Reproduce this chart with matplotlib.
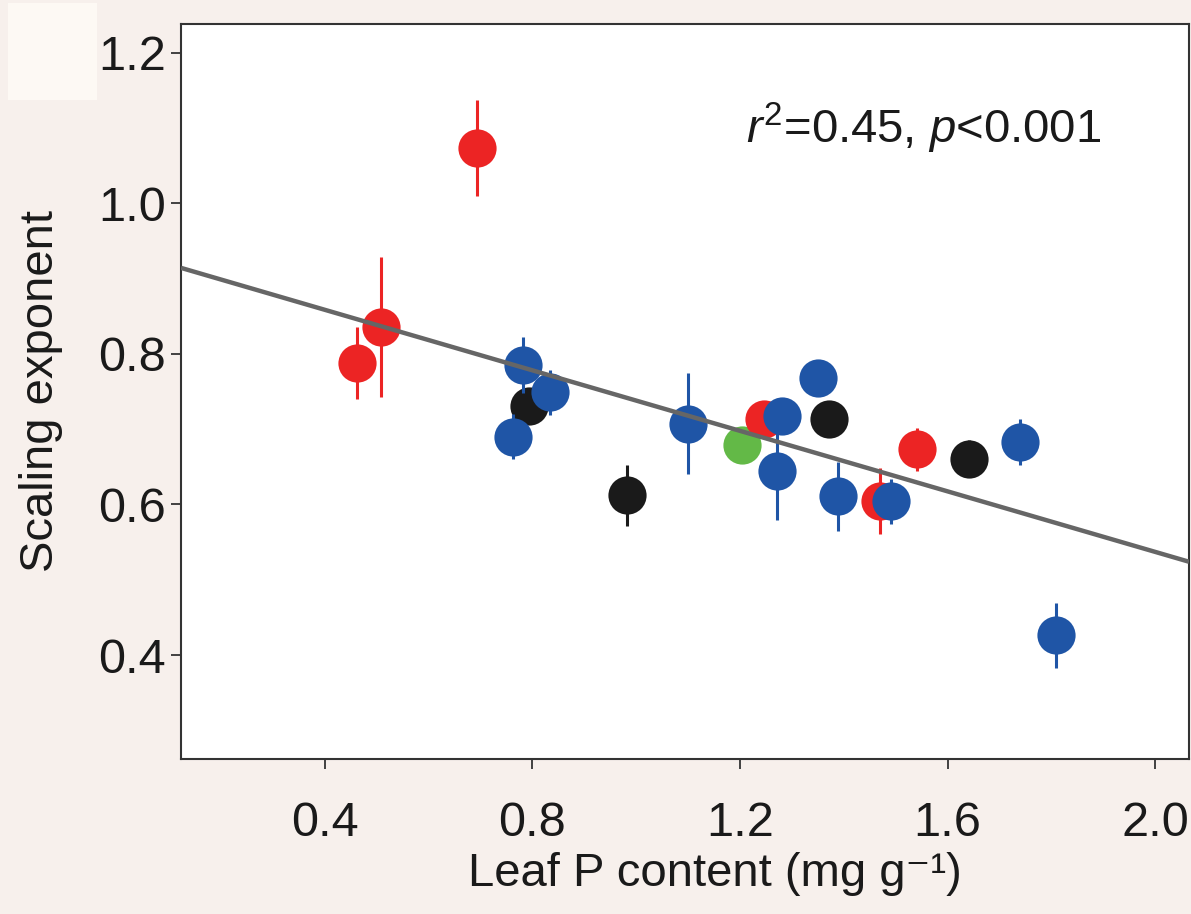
import matplotlib
matplotlib.use("Agg")
import matplotlib.pyplot as plt
import numpy as np
from matplotlib.patches import Rectangle

plt.rcParams['font.family'] = ['Liberation Sans', 'DejaVu Sans']
plt.rcParams['mathtext.fontset'] = 'custom'
plt.rcParams['mathtext.rm'] = 'Liberation Sans'
plt.rcParams['mathtext.it'] = 'Liberation Sans:italic'

# Leaf P content (mg g-1), scaling exponent and its error, per group
red_x = [0.463, 0.509, 0.694, 1.247, 1.470, 1.541]
red_y = [0.788, 0.836, 1.073, 0.714, 0.605, 0.673]
red_err = [0.048, 0.093, 0.064, 0.020, 0.044, 0.028]

black_x = [0.793, 0.983, 1.372, 1.641]
black_y = [0.731, 0.612, 0.714, 0.661]
black_err = [0.020, 0.040, 0.020, 0.025]

blue_x = [0.763, 0.783, 0.835, 1.101, 1.271, 1.281, 1.350, 1.389, 1.492, 1.740, 1.809]
blue_y = [0.690, 0.785, 0.749, 0.707, 0.645, 0.717, 0.768, 0.611, 0.604, 0.683, 0.426]
blue_err = [0.030, 0.037, 0.030, 0.067, 0.066, 0.020, 0.020, 0.046, 0.030, 0.031, 0.043]

green_x = [1.204]
green_y = [0.679]
green_err = [0.0]

# regression line coefficients
fit_intercept = 0.939
fit_slope = -0.201

x_ticks = [0.4, 0.8, 1.2, 1.6, 2.0]
y_ticks = [0.4, 0.6, 0.8, 1.0, 1.2]

bg = '#f7f0ec'
fig = plt.figure(figsize=(11.91, 9.14), dpi=100, facecolor=bg)
fig.patches.append(Rectangle((8 / 1191, 1 - 100 / 914), 89 / 1191, 97 / 914,
                             transform=fig.transFigure, facecolor='#fdf9f4',
                             edgecolor='none', zorder=0))
ax = fig.add_axes([181 / 1191, 1 - 759 / 914, 1008 / 1191, 735 / 914])
ax.set_facecolor('white')

xlim = (0.1236, 2.065)
ylim = (0.262, 1.238)

groups = [
    (red_x, red_y, red_err, '#ec2424', 3),
    (black_x, black_y, black_err, '#1a1a1a', 4),
    (blue_x, blue_y, blue_err, '#1f55a6', 5),
    (green_x, green_y, green_err, '#63b947', 2),
]
for gx, gy, ge, col, z in groups:
    for xi, yi, ei in zip(gx, gy, ge):
        ax.errorbar(xi, yi, yerr=ei, fmt='o', color=col, ms=27.5, mew=0,
                    elinewidth=2.2, capsize=0, zorder=z)

xs = np.array(xlim)
ax.plot(xs, fit_intercept + fit_slope * xs, color='#666666', lw=3.2,
        zorder=10, solid_capstyle='butt')

ax.set_xlim(*xlim)
ax.set_ylim(*ylim)
ax.set_xticks(x_ticks)
ax.set_xticklabels([f'{v:.1f}' for v in x_ticks])
ax.set_yticks(y_ticks)
ax.set_yticklabels([f'{v:.1f}' for v in y_ticks])

for s in ax.spines.values():
    s.set_color('#333333')
    s.set_linewidth(1.5)

ax.tick_params(axis='x', direction='out', length=7, width=1.3, color='#333333',
               labelsize=35, pad=23, labelcolor='#1a1a1a')
ax.tick_params(axis='y', direction='out', length=7, width=1.3, color='#333333',
               labelsize=35, pad=4, labelcolor='#1a1a1a')

ax.set_xlabel('Leaf P content (mg g\u207b\u00b9)', fontsize=34, color='#1a1a1a')
ax.xaxis.set_label_coords((715 - 181) / 1008, -(852 - 759) / 735)
ax.set_ylabel('Scaling exponent', fontsize=34, color='#1a1a1a')
ax.yaxis.set_label_coords(-(181 - 63) / 1008, 0.5)

ax.text(1.212, 1.079, r'$\it{r}^{2}$=0.45, $\it{p}$<0.001', fontsize=34,
        color='#1a1a1a', ha='left', va='baseline')

fig.savefig('out.png', dpi=100, facecolor=bg)
